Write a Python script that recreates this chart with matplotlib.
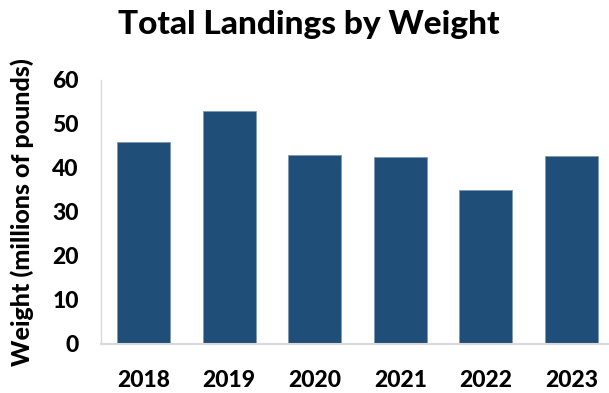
import matplotlib
matplotlib.use("Agg")
import matplotlib.pyplot as plt

years = ["2018", "2019", "2020", "2021", "2022", "2023"]
weights = [45.8, 53.0, 42.9, 42.4, 34.9, 42.7]

plt.rcParams['font.family'] = ['Lato', 'DejaVu Sans']
W = "black"

fig = plt.figure(figsize=(6.09, 3.93), dpi=100)
ax = fig.add_axes([101/609, 1 - 343.5/393, (609 - 101)/609, (343.5 - 80)/393])

x = range(len(years))
ax.bar(x, weights, width=0.62, color="#1F4E79", edgecolor="#7F97B2", linewidth=0.6)
ax.set_xlim(-0.5, 5.44)
ax.set_ylim(0, 60)
ax.set_yticks([0, 10, 20, 30, 40, 50, 60])
ax.set_xticks(list(x))
ax.set_xticklabels(years)

for s in ["top", "right"]:
    ax.spines[s].set_visible(False)
ax.spines["left"].set_color("#D9D9D9")
ax.spines["bottom"].set_color("#D9D9D9")
ax.spines["left"].set_linewidth(1.0)
ax.spines["bottom"].set_linewidth(1.5)
ax.tick_params(axis="both", length=0, labelsize=16.5)
ax.tick_params(axis="x", pad=19)
ax.tick_params(axis="y", pad=16)
for lbl in ax.get_xticklabels() + ax.get_yticklabels():
    lbl.set_fontweight(W)

ax.set_ylabel("Weight (millions of pounds)", fontsize=18, fontweight=W, labelpad=13)
fig.suptitle("Total Landings by Weight", fontsize=24, fontweight=W, x=0.507, y=0.975)

fig.savefig("out.png", dpi=100)
